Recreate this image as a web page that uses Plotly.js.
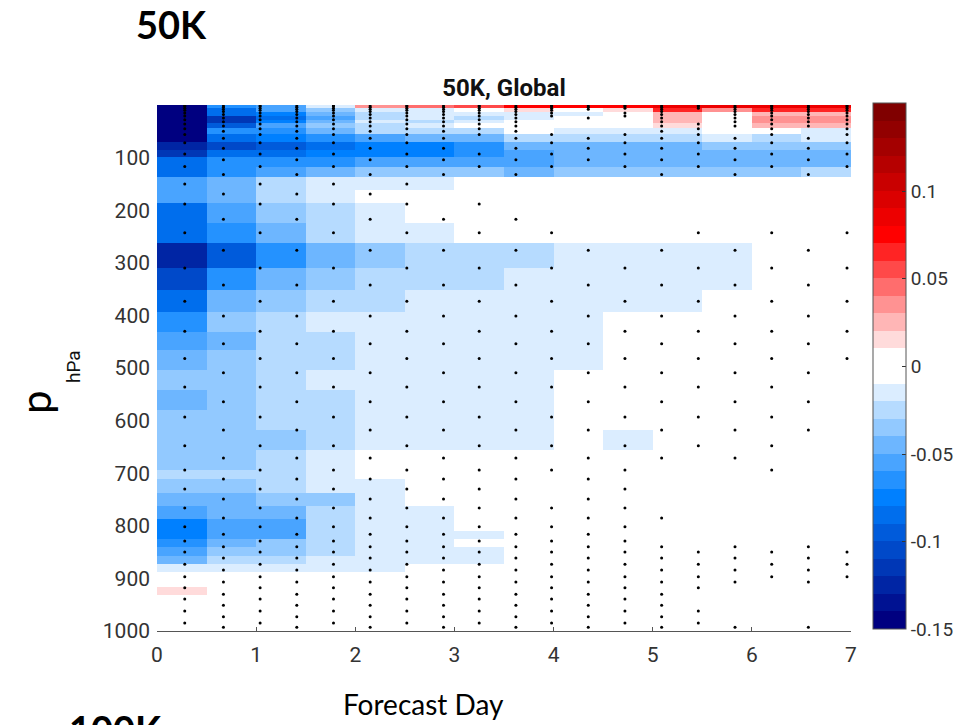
<!DOCTYPE html>
<html>
<head>
<meta charset="utf-8">
<script src="https://cdn.plot.ly/plotly-3.0.1.min.js"></script>
<style>
  html, body { margin: 0; padding: 0; background: #fff; }
  #chart { width: 956px; height: 725px; }
</style>
</head>
<body>
<div id="chart"></div>
<script>
// Column edges in forecast days (half-day bins)
const dayEdges = [0, 0.5, 1, 1.5, 2, 2.5, 3, 3.5, 4, 4.5, 5, 5.5, 6, 6.5, 7];

// Pressure layer edges in hPa (top of atmosphere to surface)
const pEdges = [0, 5, 12.6, 20, 28, 35, 43, 56, 70, 85, 98, 117, 136, 161, 186, 224, 262, 309, 351, 393,
  431, 465, 503, 541, 580, 618, 656, 694, 711, 738, 762, 787, 810, 825, 840, 857, 873, 888, 917, 932, 1000];

// Mean difference per layer (rows) and half-day bin (columns)
const diff = [
  [-0.145,-0.065,-0.055,-0.015,0.035,0.045,0.055,0.075,0.075,0.075,0.085,0.085,0.085,0.085],
  [-0.145,-0.085,-0.055,-0.035,-0.015,-0.015,0,0.015,0,0.015,0.065,0.035,0.065,0.065],
  [-0.145,-0.085,-0.075,-0.045,-0.025,-0.015,-0.015,-0.015,-0.015,0,0.025,0,0.025,0.025],
  [-0.145,-0.115,-0.085,-0.055,-0.025,-0.015,-0.025,-0.015,0,0,0.025,0,0.035,0.035],
  [-0.145,-0.115,-0.075,-0.045,-0.015,-0.025,-0.015,0,0,0,0.025,0,0.035,0.035],
  [-0.145,-0.095,-0.055,-0.035,-0.025,-0.015,0,0,0,0,0.015,0,0.025,0.025],
  [-0.145,-0.065,-0.065,-0.045,-0.025,-0.025,-0.025,0,-0.015,-0.015,-0.015,0,0,-0.015],
  [-0.145,-0.085,-0.075,-0.065,-0.055,-0.045,-0.045,-0.025,-0.025,-0.025,-0.025,-0.015,-0.025,-0.015],
  [-0.125,-0.105,-0.095,-0.085,-0.075,-0.075,-0.065,-0.045,-0.045,-0.045,-0.045,-0.035,-0.035,-0.035],
  [-0.115,-0.085,-0.085,-0.075,-0.075,-0.075,-0.065,-0.055,-0.045,-0.045,-0.045,-0.045,-0.045,-0.045],
  [-0.085,-0.065,-0.065,-0.065,-0.055,-0.055,-0.055,-0.055,-0.045,-0.045,-0.045,-0.045,-0.045,-0.045],
  [-0.085,-0.065,-0.055,-0.045,-0.035,-0.035,-0.035,-0.045,-0.035,-0.035,-0.035,-0.035,-0.035,-0.025],
  [-0.055,-0.045,-0.025,-0.015,-0.015,-0.015,0,0,0,0,0,0,0,0],
  [-0.055,-0.045,-0.025,-0.015,0,0,0,0,0,0,0,0,0,0],
  [-0.085,-0.055,-0.035,-0.025,-0.015,0,0,0,0,0,0,0,0,0],
  [-0.085,-0.065,-0.045,-0.025,-0.015,-0.015,0,0,0,0,0,0,0,0],
  [-0.125,-0.095,-0.065,-0.045,-0.035,-0.025,-0.025,-0.025,-0.015,-0.015,-0.015,-0.015,0,0],
  [-0.105,-0.065,-0.045,-0.035,-0.025,-0.025,-0.025,-0.015,-0.015,-0.015,-0.015,-0.015,0,0],
  [-0.085,-0.045,-0.035,-0.025,-0.025,-0.015,-0.015,-0.015,-0.015,-0.015,-0.015,0,0,0],
  [-0.065,-0.035,-0.025,-0.015,-0.015,-0.015,-0.015,-0.015,-0.015,0,0,0,0,0],
  [-0.055,-0.045,-0.025,-0.025,-0.015,-0.015,-0.015,-0.015,-0.015,0,0,0,0,0],
  [-0.045,-0.035,-0.025,-0.025,-0.015,-0.015,-0.015,-0.015,-0.015,0,0,0,0,0],
  [-0.035,-0.035,-0.025,-0.015,-0.015,-0.015,-0.015,-0.015,0,0,0,0,0,0],
  [-0.045,-0.035,-0.025,-0.025,-0.015,-0.015,-0.015,-0.015,0,0,0,0,0,0],
  [-0.035,-0.035,-0.025,-0.025,-0.015,-0.015,-0.015,-0.015,0,0,0,0,0,0],
  [-0.035,-0.035,-0.035,-0.025,-0.015,-0.015,-0.015,-0.015,0,-0.015,0,0,0,0],
  [-0.035,-0.035,-0.025,-0.015,0,0,0,0,0,0,0,0,0,0],
  [-0.025,-0.025,-0.025,-0.015,0,0,0,0,0,0,0,0,0,0],
  [-0.035,-0.035,-0.025,-0.015,-0.015,0,0,0,0,0,0,0,0,0],
  [-0.045,-0.045,-0.035,-0.035,-0.015,0,0,0,0,0,0,0,0,0],
  [-0.055,-0.045,-0.045,-0.025,-0.015,-0.015,0,0,0,0,0,0,0,0],
  [-0.075,-0.055,-0.055,-0.025,-0.015,-0.015,0,0,0,0,0,0,0,0],
  [-0.075,-0.055,-0.055,-0.025,-0.015,-0.015,-0.015,0,0,0,0,0,0,0],
  [-0.065,-0.045,-0.035,-0.025,-0.015,-0.015,0,0,0,0,0,0,0,0],
  [-0.055,-0.035,-0.035,-0.025,-0.015,-0.015,-0.015,0,0,0,0,0,0,0],
  [-0.045,-0.025,-0.025,-0.015,-0.015,-0.015,-0.015,0,0,0,0,0,0,0],
  [-0.015,-0.015,-0.015,-0.015,-0.015,0,0,0,0,0,0,0,0,0],
  [0,0,0,0,0,0,0,0,0,0,0,0,0,0],
  [0.015,0,0,0,0,0,0,0,0,0,0,0,0,0],
  [0,0,0,0,0,0,0,0,0,0,0,0,0,0]
];

// Significance stippling: lead times of the marker columns (days)
const dotDays = [0.28, 0.67, 1.04, 1.41, 1.78, 2.15, 2.52, 2.89, 3.25, 3.62, 3.98, 4.35, 4.72, 5.09, 5.46, 5.83, 6.2, 6.57, 6.96];
// Levels tested in even-numbered and odd-numbered marker columns (hPa)
const levelsEven = [1, 3, 6, 10, 15, 21, 28, 36, 45, 56, 72, 93, 117, 150, 188, 243, 310, 373, 430, 482,
  536, 593, 648, 694, 730, 766, 802, 829, 850, 873, 897, 918, 939, 962, 985];
const levelsOdd = [2, 4.5, 8, 12.5, 18, 24.5, 32, 40, 50, 63, 82, 104, 132, 169, 217, 276, 342, 401, 454, 509,
  564, 618, 671, 711, 749, 785, 816, 840, 861, 884, 907, 930, 951, 973, 993];
// Indices of levels that are NOT significant, per marker column
const notSignificant = [
  [], [], [], [], [], [], [], [13], [10, 13], [13],
  [6, 7, 8, 13, 14, 24],
  [3, 4, 6, 7, 8, 12, 13, 14],
  [3, 6, 7, 8, 13, 14, 15],
  [13, 14, 23, 24, 26],
  [3, 4, 5, 6, 13, 14, 23, 24, 25, 26, 27, 32],
  [8, 13, 14, 23, 24, 25, 26, 31, 32, 33],
  [13, 14, 24, 25, 26, 27, 31, 32, 33, 34],
  [8, 13, 14, 22, 23, 24, 25, 26, 31, 32, 33],
  [13, 14, 20, 21, 22, 23, 24, 25, 26, 27, 31, 32, 33, 34]
];

// Colourbar tick labels
const cbTicks = [-0.15, -0.1, -0.05, 0, 0.05, 0.1];
const cbTickText = ['-0.15', '-0.1', '-0.05', '0', '0.05', '0.1'];
const pTicks = [100, 200, 300, 400, 500, 600, 700, 800, 900, 1000];
const dayTicks = [0, 1, 2, 3, 4, 5, 6, 7];

// Discrete blue-white-red map, 30 bins of 0.01 between -0.15 and 0.15
function bandColor(b) {
  let r, g, bl;
  if (b <= 13) {
    const k = 14 - b;
    if (k <= 7) { const f = k / 7; r = 255 * (1 - f); g = 255 - 127 * f; bl = 255; }
    else { const t = (k - 7) / 7; r = 0; g = 128 * (1 - t); bl = 255 - 127 * t; }
  } else if (b <= 15) {
    r = 255; g = 255; bl = 255;
  } else {
    const k = b - 15;
    if (k <= 7) { const f = k / 7; r = 255; g = 255 * (1 - f); bl = 255 * (1 - f); }
    else { const t = (k - 7) / 7; r = 255 - 127 * t; g = 0; bl = 0; }
  }
  return 'rgb(' + Math.round(r) + ',' + Math.round(g) + ',' + Math.round(bl) + ')';
}
const nBands = 30;
const colorscale = [];
for (let b = 0; b < nBands; b++) {
  const c = bandColor(b);
  colorscale.push([b / nBands, c]);
  colorscale.push([(b + 1) / nBands, c]);
}

// Stipple markers from the significance table
const sx = [], sy = [];
dotDays.forEach((d, i) => {
  const lev = (i % 2 === 0) ? levelsEven : levelsOdd;
  lev.forEach((p, j) => {
    if (notSignificant[i].indexOf(j) === -1) { sx.push(d); sy.push(p); }
  });
});

const tickFont = { family: 'Roboto, sans-serif', size: 21, color: '#333' };

const traces = [
  {
    type: 'heatmap',
    x: dayEdges,
    y: pEdges,
    z: diff,
    zmin: -0.15,
    zmax: 0.15,
    colorscale: colorscale,
    hoverinfo: 'skip',
    colorbar: {
      x: 1.0317, xanchor: 'left', xpad: 0,
      y: 0.503, yanchor: 'middle', ypad: 0,
      len: 1.0, lenmode: 'fraction',
      thickness: 33,
      outlinecolor: '#555', outlinewidth: 1,
      tickvals: cbTicks, ticktext: cbTickText,
      ticks: 'inside', ticklen: 4, tickcolor: '#333',
      tickfont: { family: 'Roboto, sans-serif', size: 19, color: '#333' }
    }
  },
  {
    type: 'scatter',
    mode: 'markers',
    x: sx,
    y: sy,
    marker: { size: 3, color: '#000', symbol: 'circle' },
    hoverinfo: 'skip',
    showlegend: false
  }
];

const layout = {
  width: 956,
  height: 725,
  margin: { l: 157, r: 105, t: 105, b: 94, autoexpand: false },
  paper_bgcolor: '#fff',
  plot_bgcolor: '#fff',
  showlegend: false,
  title: {
    text: '<b>50K, Global</b>',
    font: { family: 'Roboto, sans-serif', size: 24, color: '#111' },
    x: 0.5, xref: 'paper', xanchor: 'center',
    y: 1 - 88 / 725, yref: 'container', yanchor: 'middle'
  },
  xaxis: {
    range: [0, 7],
    tickvals: dayTicks,
    ticks: 'inside', ticklen: 4, tickcolor: '#555',
    showline: true, linecolor: '#555', linewidth: 1,
    showgrid: false, zeroline: false,
    ticklabelstandoff: 5,
    tickfont: tickFont
  },
  yaxis: {
    range: [1000, 0],
    tickvals: pTicks,
    ticks: '',
    showline: false,
    showgrid: false, zeroline: false,
    ticklabelstandoff: 6,
    tickfont: tickFont
  },
  annotations: [
    { text: '<b>50K</b>', xref: 'paper', yref: 'paper', x: (171 - 157) / 694, y: (631 - 24) / 526,
      xanchor: 'center', yanchor: 'middle', showarrow: false,
      font: { family: 'Lato, sans-serif', size: 38, color: '#000' } },
    { text: 'Forecast Day', xref: 'paper', yref: 'paper', x: (423 - 157) / 694, y: (631 - 704) / 526,
      xanchor: 'center', yanchor: 'middle', showarrow: false,
      font: { family: 'Lato, sans-serif', size: 28, color: '#000' } },
    { text: 'p', xref: 'paper', yref: 'paper', x: (35 - 157) / 694, y: (631 - 402) / 526,
      xanchor: 'center', yanchor: 'middle', showarrow: false, textangle: -90,
      font: { family: 'Lato, sans-serif', size: 42, color: '#000' } },
    { text: 'hPa', xref: 'paper', yref: 'paper', x: (73 - 157) / 694, y: (631 - 367) / 526,
      xanchor: 'center', yanchor: 'middle', showarrow: false, textangle: -90,
      font: { family: 'Roboto, sans-serif', size: 19, color: '#111' } },
    { text: '<b>100K</b>', xref: 'paper', yref: 'paper', x: (115 - 157) / 694, y: (631 - 704) / 526,
      xanchor: 'center', yanchor: 'top', showarrow: false,
      font: { family: 'Lato, sans-serif', size: 38, color: '#000' } }
  ]
};

Plotly.newPlot('chart', traces, layout, { displayModeBar: false, staticPlot: true });
</script>
</body>
</html>
